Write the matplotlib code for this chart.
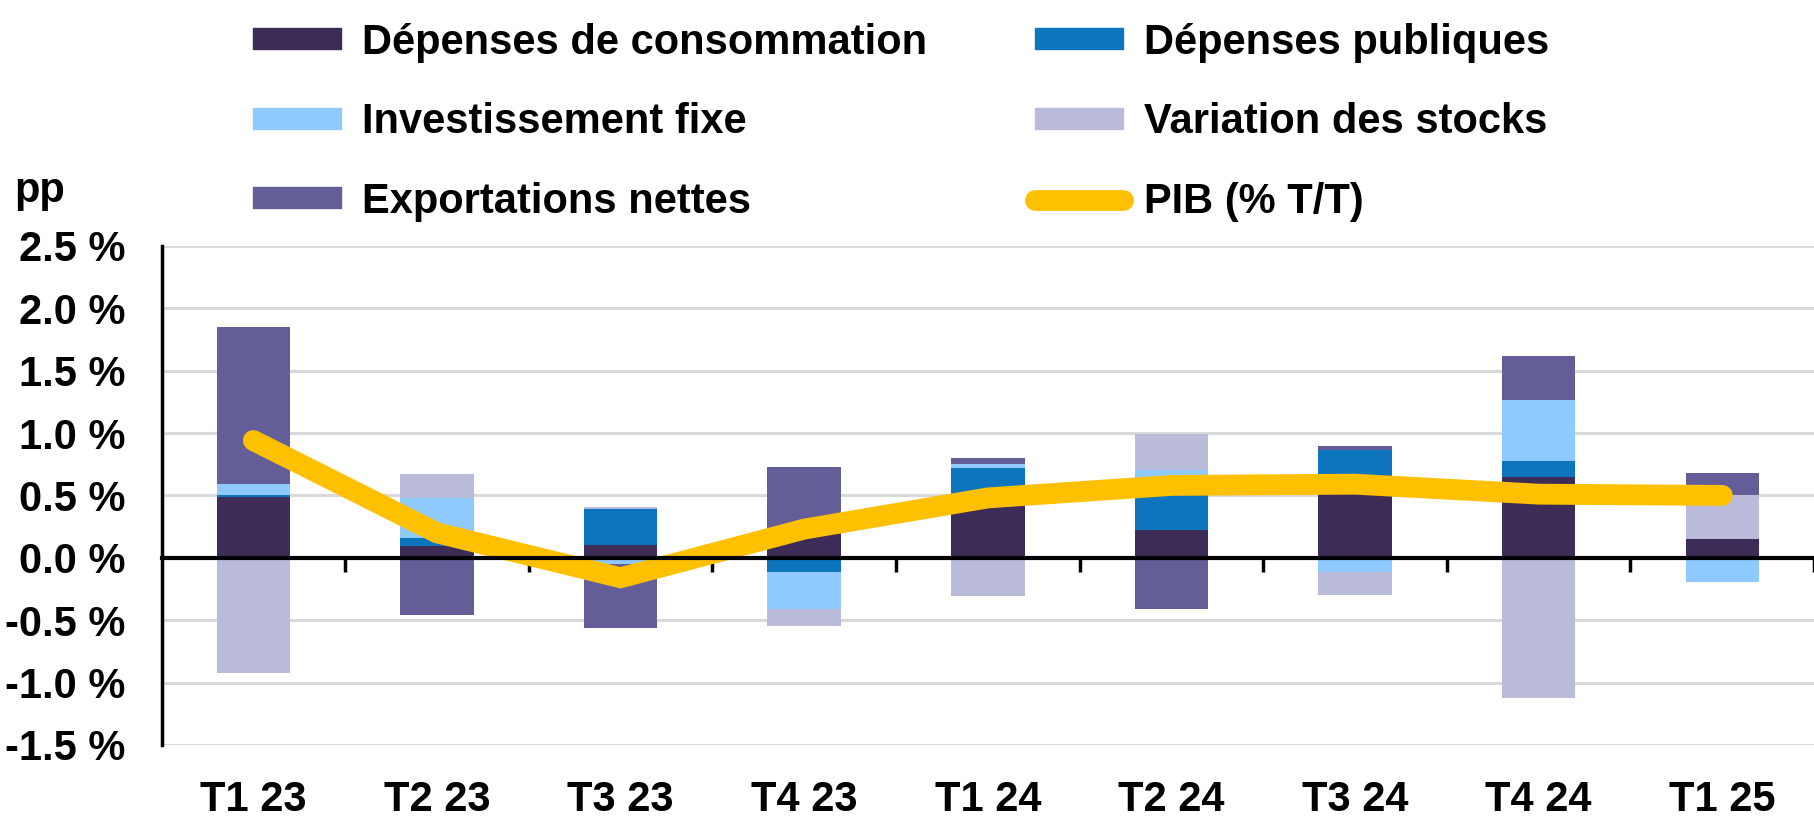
import numpy as np
import matplotlib
matplotlib.use("Agg")
import matplotlib.pyplot as plt
from matplotlib.patches import Patch
from matplotlib.lines import Line2D
from matplotlib.ticker import FixedLocator, FuncFormatter

plt.rcParams['font.family'] = ['Liberation Sans', 'DejaVu Sans']
plt.rcParams['font.weight'] = 'bold'

# quarters
quarters = ["T1 23", "T2 23", "T3 23", "T4 23", "T1 24", "T2 24", "T3 24", "T4 24", "T1 25"]

# contributions to GDP growth, pp
consommation = [0.485, 0.095, 0.105, 0.19, 0.44, 0.22, 0.56, 0.648, 0.154]
publiques = [0.015, 0.065, 0.285, -0.11, 0.28, 0.40, 0.30, 0.127, 0.0]
investissement = [0.094, 0.32, -0.05, -0.30, 0.035, 0.08, -0.11, 0.49, -0.19]
stocks = [-0.92, 0.194, 0.02, -0.135, -0.31, 0.29, -0.19, -1.12, 0.346]
exportations = [1.255, -0.46, -0.51, 0.54, 0.042, -0.41, 0.034, 0.351, 0.183]
pib = [0.94, 0.20, -0.16, 0.23, 0.48, 0.58, 0.59, 0.51, 0.50]

series = [
    ("Dépenses de consommation", consommation, "#3D2C58"),
    ("Dépenses publiques", publiques, "#0D75BE"),
    ("Investissement fixe", investissement, "#8FCAFE"),
    ("Variation des stocks", stocks, "#BABBDB"),
    ("Exportations nettes", exportations, "#635D98"),
]
pib_color = "#FFC000"

fig = plt.figure(figsize=(18.15, 8.25), dpi=100)
ax = fig.add_axes([0.089, 0.097, 0.9105, 0.605])

x = np.arange(len(quarters))
pos_base = np.zeros(len(quarters))
neg_base = np.zeros(len(quarters))
for name, vals, col in series:
    vals = np.array(vals)
    base = np.where(vals >= 0, pos_base, neg_base)
    ax.bar(x, vals, width=0.40, bottom=base, color=col, zorder=2, linewidth=0)
    pos_base = pos_base + np.where(vals >= 0, vals, 0)
    neg_base = neg_base + np.where(vals < 0, vals, 0)

ax.plot(x, pib, color=pib_color, lw=15, solid_capstyle='round',
        solid_joinstyle='miter', zorder=3)

ax.set_xlim(-0.5, len(quarters) - 0.5)
ax.set_ylim(-1.5, 2.5)
ax.yaxis.set_major_locator(FixedLocator(np.arange(-1.5, 2.51, 0.5)))
ax.yaxis.set_major_formatter(FuncFormatter(lambda v, p: f"{v:.1f} %".replace("-0.0", "0.0")))
ax.grid(axis='y', color='#D9D9D9', lw=2.2, zorder=0)
ax.tick_params(axis='y', length=0, pad=26, labelsize=30)

for s in ['top', 'right']:
    ax.spines[s].set_visible(False)
ax.spines['left'].set_linewidth(2.5)
ax.spines['bottom'].set_position(('data', 0))
ax.spines['bottom'].set_linewidth(3)
ax.spines['bottom'].set_zorder(4)

ax.xaxis.set_major_locator(FixedLocator(np.arange(0.5, len(quarters), 1.0)))
ax.tick_params(axis='x', direction='out', length=10, width=2.5, labelbottom=False)
for i, q in enumerate(quarters):
    ax.annotate(q, xy=(i, 0), xycoords=('data', 'axes fraction'),
                xytext=(0, -25), textcoords='offset points',
                ha='center', va='top', fontsize=30, fontweight='bold')

fig.text(0.008, 0.768, "pp", fontsize=30, fontweight='bold', va='center', ha='left')

handles = [Patch(color=c) for _, _, c in series]
labels = [n for n, _, _ in series]
handles.append(Line2D([0], [0], color=pib_color, lw=15, solid_capstyle='round'))
labels.append("PIB (% T/T)")
order = [0, 2, 4, 1, 3, 5]
leg = fig.legend([handles[i] for i in order], [labels[i] for i in order],
                 loc='upper left', bbox_to_anchor=(0.119, 1.018), ncol=2,
                 frameon=False, fontsize=30, handlelength=2.1, handleheight=0.4,
                 handletextpad=0.5, columnspacing=2.6, labelspacing=0.95)

fig.savefig("out.png", dpi=100)
